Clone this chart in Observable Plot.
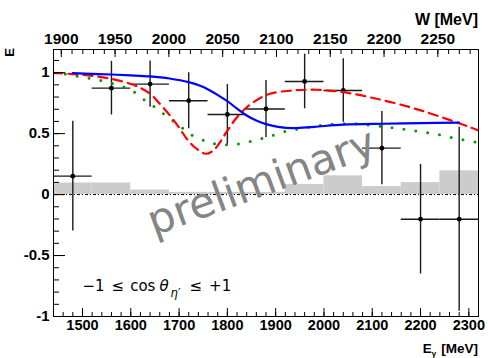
<!DOCTYPE html>
<html><head><meta charset="utf-8">
<script src="https://cdn.jsdelivr.net/npm/d3@7"></script>
<script src="https://cdn.jsdelivr.net/npm/@observablehq/plot@0.6"></script>
<style>html,body{margin:0;padding:0;background:#fff}</style>
</head><body><div id="chart"></div>
<script>
// ---- data ----
const pointE   = [1480, 1560, 1640, 1720, 1800, 1880, 1960, 2040, 2120, 2200, 2280];
const pointVal = [0.151, 0.873, 0.906, 0.770, 0.657, 0.702, 0.928, 0.854, 0.381, -0.202, -0.202];
const pointErr = [0.45, 0.22, 0.19, 0.23, 0.245, 0.234, 0.224, 0.26, 0.30, 0.45, 0.755];
const pointHalfBin = 40;

const sysLo  = [1440, 1520, 1600, 1680, 1760, 1840, 1920, 2000, 2080, 2160, 2240];
const sysHi  = [1520, 1600, 1680, 1760, 1840, 1920, 2000, 2080, 2160, 2240, 2320];
const sysVal = [0.095, 0.095, 0.037, 0.018, 0.018, 0.018, 0.082, 0.154, 0.066, 0.098, 0.195];

const blueE   = [1480, 1520, 1560, 1600, 1640, 1680, 1720, 1745, 1764, 1782, 1800, 1820, 1840, 1860, 1880, 1905, 1936, 1980, 2040, 2123, 2200, 2280];
const blueVal = [0.996, 0.99, 0.985, 0.978, 0.969, 0.952, 0.922, 0.89, 0.854, 0.812, 0.766, 0.705, 0.649, 0.607, 0.578, 0.556, 0.545, 0.556, 0.573, 0.581, 0.586, 0.591];

const redE   = [1440, 1454, 1490, 1530, 1565, 1599, 1620, 1640, 1660, 1681, 1700, 1716, 1735, 1755, 1771, 1785, 1798, 1815, 1833, 1854, 1888, 1937, 1985, 2040, 2109, 2178, 2233, 2302, 2320];
const redVal = [0.996, 0.995, 0.985, 0.969, 0.945, 0.909, 0.875, 0.827, 0.745, 0.649, 0.55, 0.458, 0.38, 0.335, 0.362, 0.43, 0.512, 0.61, 0.69, 0.758, 0.827, 0.854, 0.86, 0.84, 0.786, 0.717, 0.649, 0.553, 0.526];

const greenE   = [1440, 1454, 1478, 1502, 1528, 1552, 1577, 1600, 1620, 1640, 1661, 1680, 1701, 1719, 1743, 1766, 1792, 1816, 1841, 1866, 1888, 1914, 1939, 1963, 1988, 2012, 2038, 2063, 2088, 2114, 2139, 2164, 2188, 2214, 2239, 2264, 2288, 2320];
const greenVal = [1.0, 0.996, 0.977, 0.963, 0.944, 0.922, 0.893, 0.86, 0.799, 0.745, 0.684, 0.622, 0.567, 0.504, 0.458, 0.422, 0.409, 0.411, 0.43, 0.454, 0.477, 0.512, 0.532, 0.55, 0.564, 0.575, 0.581, 0.581, 0.573, 0.561, 0.55, 0.536, 0.523, 0.507, 0.49, 0.468, 0.45, 0.426];

// tick labels / ticks
const xDomain = [1440, 2320];
const yDomain = [-1, 1.19];
const xMajor = [1500, 1600, 1700, 1800, 1900, 2000, 2100, 2200, 2300];
const xMinor = d3.range(1440, 2321, 20);
const wMajor = [1900, 1950, 2000, 2050, 2100, 2150, 2200, 2250];
const wMinor = d3.range(1900, 2281, 10);
const yMajor = [-1, -0.5, 0, 0.5, 1];
const yMajorLabels = ["-1", "-0.5", "0", "0.5", "1"];
const yMinor = d3.range(-10, 12).map(k => k / 10);

// annotations (data coordinates)
const prelimText = ["preliminary"];
const prelimPos = [1871, 0.10];
const cosLabelPos = [1501, -0.795];

// top axis: invariant mass W (linear mapping between the frame ends)
const mp = 938.27;
const wAt = e => Math.sqrt(mp * mp + 2 * mp * e);
const w0 = wAt(xDomain[0]), w1 = wAt(xDomain[1]);
const eOfW = w => xDomain[0] + (w - w0) / (w1 - w0) * (xDomain[1] - xDomain[0]);
const wOfE = e => w0 + (e - xDomain[0]) / (xDomain[1] - xDomain[0]) * (w1 - w0);

const points = pointE.map((e, i) => ({e, v: pointVal[i], err: pointErr[i]}));
const sys = sysLo.map((lo, i) => ({lo, hi: sysHi[i], v: sysVal[i]}));
const blue = blueE.map((e, i) => ({e, v: blueVal[i]}));
const red = redE.map((e, i) => ({e, v: redVal[i]}));
const green = greenE.map((e, i) => ({e, v: greenVal[i]}));

const FONT = "Liberation Sans, Arial, Helvetica, sans-serif";

const plot = Plot.plot({
  width: 488, height: 358,
  marginLeft: 53, marginRight: 10, marginTop: 49, marginBottom: 42,
  style: {background: "white", fontFamily: FONT},
  x: {domain: xDomain},
  y: {domain: yDomain},
  marks: [
    Plot.rect(sys, {x1: "lo", x2: "hi", y1: 0, y2: "v", fill: "#cccccc"}),
    Plot.ruleY([0], {stroke: "black", strokeWidth: 1, strokeDasharray: "3,2,1,2"}),
    Plot.ruleX(points, {x: "e", y1: d => d.v - d.err, y2: d => d.v + d.err, stroke: "#1a1a1a", strokeWidth: 1.4, clip: true}),
    Plot.ruleY(points, {y: "v", x1: d => d.e - pointHalfBin, x2: d => d.e + pointHalfBin, stroke: "#1a1a1a", strokeWidth: 1.4}),
    Plot.dot(points, {x: "e", y: "v", r: 2.4, fill: "black", stroke: "none"}),
    Plot.line(green, {x: "e", y: "v", stroke: "#009900", strokeWidth: 3, strokeDasharray: "0,12", strokeLinecap: "round", curve: "catmull-rom", clip: true}),
    Plot.line(red, {x: "e", y: "v", stroke: "#ff0000", strokeWidth: 2.2, strokeDasharray: "9,6", curve: "catmull-rom", clip: true}),
    Plot.line(blue, {x: "e", y: "v", stroke: "#0000ff", strokeWidth: 2.2, curve: "catmull-rom", clip: true}),
    Plot.text(prelimText, {x: () => prelimPos[0], y: () => prelimPos[1], text: d => d, rotate: -20, fontSize: 42, fill: "#858585", fontFamily: "DejaVu Sans, sans-serif", textAnchor: "middle", lineAnchor: "middle"}),
    Plot.frame({stroke: "black", strokeWidth: 1}),
    // bottom axis
    Plot.axisX({anchor: "bottom", ticks: xMinor, tickSize: -4, fill: "none", label: null}),
    Plot.axisX({anchor: "bottom", ticks: xMajor, tickSize: -8, fill: "none", label: null}),
    Plot.axisX({anchor: "bottom", ticks: xMajor, tickSize: 0, tickPadding: 3, tickFormat: d => String(d), fontSize: 14.5, fontWeight: "bold", fill: "black", label: null}),
    // top axis (W)
    Plot.axisX({anchor: "top", ticks: wMinor.map(eOfW), tickSize: -4, fill: "none", label: null}),
    Plot.axisX({anchor: "top", ticks: wMajor.map(eOfW), tickSize: -7, fill: "none", label: null}),
    Plot.axisX({anchor: "top", ticks: wMajor.map(eOfW), tickSize: 0, tickPadding: 6, tickFormat: d => String(Math.round(wOfE(d))), fontSize: 15.5, fontWeight: "bold", fill: "black", label: null}),
    // left axis
    Plot.axisY({anchor: "left", ticks: yMinor, tickSize: -6, fill: "none", label: null}),
    Plot.axisY({anchor: "left", ticks: yMajor, tickSize: -12, fill: "none", label: null}),
    Plot.axisY({anchor: "left", ticks: yMajor, tickSize: 0, tickPadding: 4, tickFormat: d => yMajorLabels[yMajor.indexOf(d)], fontSize: 15, fontWeight: "bold", fill: "black", label: null})
  ]
});

document.getElementById("chart").appendChild(plot);

// titles and the angular-range label, positioned through the plot's scales
const svg = d3.select(plot);
const sx = plot.scale("x"), sy = plot.scale("y");
const xr = sx.range, yr = sy.range;
const frameRight = Math.max(...xr), frameTop = Math.min(...yr), frameBottom = Math.max(...yr);

svg.append("text").attr("x", frameRight).attr("y", frameTop - 24).attr("text-anchor", "end")
  .attr("font-family", FONT).attr("font-weight", "bold").attr("font-size", 16).text("W [MeV]");

svg.append("text").attr("transform", `translate(${sx.apply(xDomain[0]) - 39},${frameTop - 1}) rotate(-90)`)
  .attr("text-anchor", "end").attr("font-family", FONT).attr("font-weight", "bold").attr("font-size", 13).text("E");

const eg = svg.append("text").attr("x", frameRight).attr("y", frameBottom + 37).attr("text-anchor", "end")
  .attr("font-family", FONT).attr("font-weight", "bold").attr("font-size", 13.5);
eg.append("tspan").text("E");
eg.append("tspan").attr("font-size", 8).attr("dy", 3).text("γ");
eg.append("tspan").attr("dy", -3).attr("dx", 5).text("[MeV]");

const cl = svg.append("text").attr("x", sx.apply(cosLabelPos[0])).attr("y", sy.apply(cosLabelPos[1]))
  .attr("text-anchor", "start")
  .attr("font-family", "DejaVu Sans, sans-serif").attr("font-size", 15).attr("fill", "black");
cl.append("tspan").text("−1");
cl.append("tspan").attr("dx", 7).text("≤");
cl.append("tspan").attr("dx", 6).text("cos");
cl.append("tspan").attr("dx", 4).attr("font-style", "italic").text("θ");
cl.append("tspan").attr("dx", 2).attr("dy", 6).attr("font-size", 11.5).attr("font-style", "italic").text("η′");
cl.append("tspan").attr("dx", 9).attr("dy", -6).text("≤");
cl.append("tspan").attr("dx", 7).text("+1");
</script>
</body></html>
